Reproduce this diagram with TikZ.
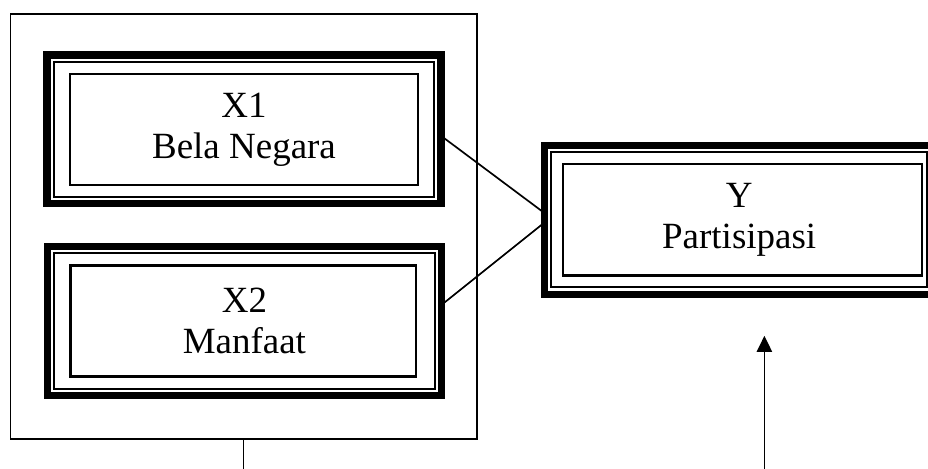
\documentclass[tikz,border=0pt]{standalone}
\usepackage{fontspec}
\setmainfont{Liberation Serif}
\usetikzlibrary{arrows.meta}

\tikzset{
    varbox/.style={draw, line width=5pt, outer sep=0pt, minimum width=9.85cm,
        minimum height=3.72cm, align=center,
        font=\fontsize{26.3}{29.2}\selectfont},
    wire/.style={line width=1.2pt}
}

\begin{document}
\begin{tikzpicture}
                        \useasboundingbox (0, 0) rectangle (23.2, 11.725);
                        % Boxes:
                        \node[draw, wire, outer sep=0pt, minimum width=11.66cm, minimum height=10.62cm](frame) at (6.09, 6.06){};
                        \node[varbox](x1) at (6.10, 8.49){X1\\Bela Negara};
                        \node[varbox](x2) at (6.11, 3.70){X2\\Manfaat};
                        \node[varbox, minimum width=9.74cm](y) at (18.48, 6.23){Y\\Partisipasi};
                        \foreach \n/\l/\r in {x1/0.58/0.58, x2/0.58/0.64, y/0.47/0.3} {
                            \draw[line width=1.4pt] ([shift={(0.17, 0.17)}]\n.south west) rectangle ([shift={(-0.17, -0.17)}]\n.north east);
                            \draw[line width=1.7pt] ([shift={(\l, 0.47)}]\n.south west) rectangle ([shift={(-\r, -0.47)}]\n.north east);
                        }
                        % Wires:
                        \draw[wire] ([yshift=-0.16cm]x1.east) -- ([yshift=0.17cm]y.west);
                        \draw[wire] ([yshift=0.4cm]x2.east) -- ([yshift=-0.07cm]y.west);
                        \draw[wire] (frame.south) -- (frame.south |- 0, 0);
                        \coordinate (ybase) at (19.11, 0);
                        \coordinate (ytip) at (19.11, 3.33);
                        \draw[wire, -{Triangle[length=0.4cm, width=0.38cm]}] (ybase) -- (ytip);
                    \end{tikzpicture}
\end{document}
